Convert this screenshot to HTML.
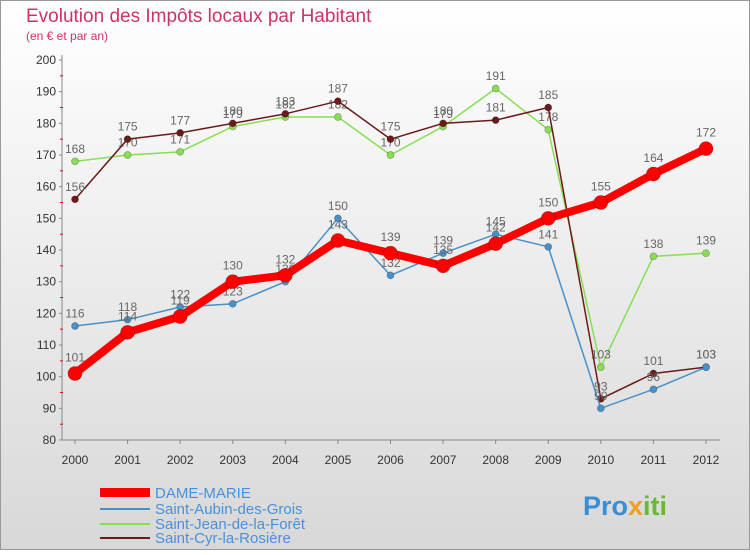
<!DOCTYPE html>
<html><head><meta charset="utf-8"><style>
body{margin:0;width:750px;height:550px;overflow:hidden;font-family:"Liberation Sans",sans-serif}
svg text{font-family:"Liberation Sans",sans-serif}
</style></head><body>
<svg id="c" width="750" height="550">
<defs><linearGradient id="bg" x1="0" y1="0" x2="0" y2="1"><stop offset="0" stop-color="#ffffff"/><stop offset="1" stop-color="#d8d8d8"/></linearGradient></defs>
<rect x="0.5" y="0.5" width="749" height="549" fill="url(#bg)" stroke="#999"/>
<text x="26" y="22" font-size="19" fill="#cc3366">Evolution des Impôts locaux par Habitant</text>
<text x="26" y="40" font-size="12" fill="#cc3366">(en € et par an)</text>
<g id="axes"></g><g id="series"></g>
<g>
<rect x="100" y="488" width="50" height="9" fill="#ff0000"/>
<text x="155" y="498" font-size="15" fill="#4a90d9">DAME-MARIE</text>
<line x1="100" y1="509" x2="150" y2="509" stroke="#4a90c8" stroke-width="2"/>
<text x="155" y="514" font-size="15" fill="#4a90d9">Saint-Aubin-des-Grois</text>
<line x1="100" y1="524" x2="150" y2="524" stroke="#88dd55" stroke-width="2"/>
<text x="155" y="529" font-size="15" fill="#4a90d9">Saint-Jean-de-la-Forêt</text>
<line x1="100" y1="538" x2="150" y2="538" stroke="#6b1a1a" stroke-width="2"/>
<text x="155" y="543" font-size="15" fill="#4a90d9">Saint-Cyr-la-Rosière</text>
</g>
<text x="583" y="515" font-size="27" font-weight="bold" fill="#3a8ed6">Pro<tspan fill="#f0a020">x</tspan><tspan fill="#66bb33">iti</tspan></text>
</svg>
<script>
const years=[2000,2001,2002,2003,2004,2005,2006,2007,2008,2009,2010,2011,2012];
const yTicks=[80,90,100,110,120,130,140,150,160,170,180,190,200];
const dameMarie=[101,114,119,130,132,143,139,135,142,150,155,164,172];
const saintAubin=[116,118,122,123,130,150,132,139,145,141,90,96,103];
const saintJean=[168,170,171,179,182,182,170,179,191,178,103,138,139];
const saintCyr=[156,175,177,180,183,187,175,180,181,185,93,101,103];
const NS="http://www.w3.org/2000/svg";
const X=i=>75+i*(706-75)/12;
const Y=v=>440-(v-80)*(380/120);
function mk(t,a,p){const e=document.createElementNS(NS,t);for(const k in a)e.setAttribute(k,a[k]);p.appendChild(e);return e;}
const ax=document.getElementById('axes');
mk('line',{x1:62,y1:55,x2:62,y2:440,stroke:'#888'},ax);
mk('line',{x1:62,y1:440,x2:720,y2:440,stroke:'#888'},ax);
yTicks.forEach(v=>{
 const t=mk('text',{x:56,y:Y(v)+4,'font-size':12,'text-anchor':'end',fill:'#333'},ax);
 
 
 t.textContent=v;
 mk('line',{x1:59,y1:Y(v),x2:62,y2:Y(v),stroke:'#888'},ax);
 if(v<200)mk('line',{x1:60,y1:Y(v+5),x2:63,y2:Y(v+5),stroke:'#e00'},ax);
});
years.forEach((yr,i)=>{
 const t=mk('text',{x:X(i),y:464,'font-size':12,'text-anchor':'middle',fill:'#333'},ax);
 
 
 t.textContent=yr;
 mk('line',{x1:X(i),y1:440,x2:X(i),y2:444,stroke:'#888'},ax);
});
const sg=document.getElementById('series');
function draw(vals,col,w,r,name){
 const g=mk('g',{},sg);
 
 
 const pl=mk('polyline',{points:vals.map((v,i)=>X(i)+','+Y(v)).join(' '),fill:'none',stroke:col,'stroke-width':w,'stroke-linejoin':'round'},g);
 
 
 vals.forEach((v,i)=>{
  const c=mk('circle',{cx:X(i),cy:Y(v),r:r,fill:col,stroke:'rgba(0,0,0,0.3)','stroke-width':0.7},g);
  
  
  const t=mk('text',{x:X(i),y:Y(v)-r-5,'font-size':12,'text-anchor':'middle',fill:'#666'},g);
  
  
  t.textContent=v;
 });
}
draw(saintJean,'#88dd55',1.5,3.5,'saint-jean');
draw(saintCyr,'#6b1a1a',1.5,3.5,'saint-cyr');
draw(saintAubin,'#4a90c8',1.5,3.5,'saint-aubin');
draw(dameMarie,'#ff0000',8,7,'dame-marie');
</script>
</body></html>
